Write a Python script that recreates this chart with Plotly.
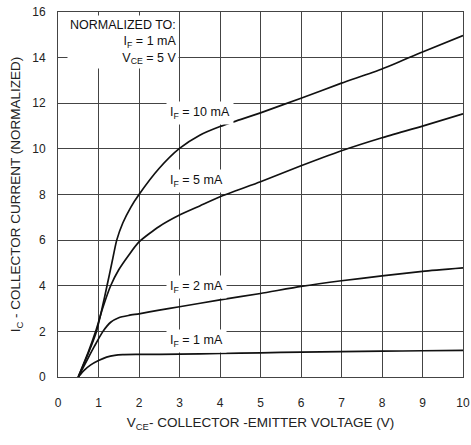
import plotly.graph_objects as go

# ---- data ----
x_if10 = [0.5, 0.75, 0.95, 1.1, 1.21, 1.33, 1.45, 1.6, 1.8, 2.0, 2.5, 3.0, 3.5, 4.0, 4.5, 5, 6, 7, 8, 9, 10]
y_if10 = [0, 1.05, 2.0, 3.1, 4.0, 5.0, 6.0, 6.75, 7.45, 8.0, 9.15, 10.02, 10.6, 10.98, 11.28, 11.58, 12.22, 12.88, 13.5, 14.25, 14.97]

x_if5 = [0.5, 0.75, 0.93, 1.1, 1.3, 1.5, 1.75, 2.0, 2.5, 3.0, 3.5, 4, 5, 6, 7, 8, 9, 10]
y_if5 = [0, 1.1, 2.0, 3.0, 4.0, 4.7, 5.35, 5.92, 6.6, 7.1, 7.5, 7.9, 8.56, 9.26, 9.92, 10.49, 11.0, 11.54]

x_if2 = [0.5, 0.75, 0.9, 1.11, 1.3, 1.5, 1.75, 2.0, 2.5, 3, 4, 5, 6, 7, 8, 9, 10]
y_if2 = [0, 0.85, 1.35, 2.0, 2.4, 2.6, 2.7, 2.77, 2.93, 3.08, 3.38, 3.66, 3.97, 4.22, 4.43, 4.63, 4.78]

x_if1 = [0.5, 0.65, 0.8, 1.0, 1.2, 1.4, 1.6, 2, 3, 4, 5, 6, 7, 8, 9, 10]
y_if1 = [0, 0.3, 0.52, 0.72, 0.87, 0.95, 0.98, 0.99, 1.0, 1.03, 1.06, 1.09, 1.11, 1.13, 1.15, 1.17]

curve_labels = ["I<sub>F</sub> = 10 mA", "I<sub>F</sub> = 5 mA", "I<sub>F</sub> = 2 mA", "I<sub>F</sub> = 1 mA"]
label_x = [3.5, 3.41, 3.41, 3.41]
label_y = [11.58, 8.6, 3.95, 1.57]

x_ticks = [0, 1, 2, 3, 4, 5, 6, 7, 8, 9, 10]
y_ticks = [0, 2, 4, 6, 8, 10, 12, 14, 16]

note_text = "NORMALIZED TO:<br>I<sub>F</sub> = 1 mA<br>V<sub>CE</sub> = 5 V"

FONT = "Liberation Sans, Arial, sans-serif"
GRID = "#444444"

fig = go.Figure()
for xs, ys in [(x_if10, y_if10), (x_if5, y_if5), (x_if2, y_if2), (x_if1, y_if1)]:
    fig.add_trace(go.Scatter(x=xs, y=ys, mode="lines",
                             line=dict(color="#111111", width=1.7, shape="spline", smoothing=0.6),
                             showlegend=False, hoverinfo="skip"))

for t, lx, ly in zip(curve_labels, label_x, label_y):
    fig.add_annotation(x=lx, y=ly, text=t, showarrow=False, xref="x", yref="y",
                       font=dict(family=FONT, size=12.5, color="#111111"),
                       bgcolor="white", borderpad=3)

fig.add_annotation(x=0.0, y=1.0, xref="paper", yref="paper", xanchor="left", yanchor="top",
                   xshift=9, yshift=-3,
                   text=note_text, showarrow=False, align="right",
                   font=dict(family=FONT, size=12.5, color="#111111"),
                   bgcolor="white", borderpad=2)

fig.update_layout(
    width=471, height=445,
    margin=dict(l=58, r=8, t=12, b=68),
    paper_bgcolor="white", plot_bgcolor="white",
    font=dict(family=FONT, size=12, color="#222222"),
    showlegend=False,
)
fig.update_xaxes(range=[0, 10], tickvals=x_ticks, ticktext=[str(v) for v in x_ticks],
                 showgrid=True, gridcolor=GRID, gridwidth=1, zeroline=False,
                 showline=True, linecolor=GRID, linewidth=1, mirror=True,
                 ticks="", ticklabelstandoff=15, automargin=False,
                 tickfont=dict(family=FONT, size=12, color="#222222"),
                 title=dict(text="V<sub>CE</sub>- COLLECTOR -EMITTER VOLTAGE (V)",
                            font=dict(family=FONT, size=13.5, color="#222222"), standoff=8))
fig.update_yaxes(range=[0, 16], tickvals=y_ticks, ticktext=[str(v) for v in y_ticks],
                 showgrid=True, gridcolor=GRID, gridwidth=1, zeroline=False,
                 showline=True, linecolor=GRID, linewidth=1, mirror=True,
                 ticks="", ticklabelstandoff=9, automargin=False,
                 tickfont=dict(family=FONT, size=12, color="#222222"),
                 title=dict(text="I<sub>C</sub> - COLLECTOR CURRENT (NORMALIZED)",
                            font=dict(family=FONT, size=13.5, color="#222222"), standoff=8))

fig.write_html("out.html", config={"displayModeBar": False},
               post_script="document.body.style.margin='0';document.body.style.overflow='hidden';")
